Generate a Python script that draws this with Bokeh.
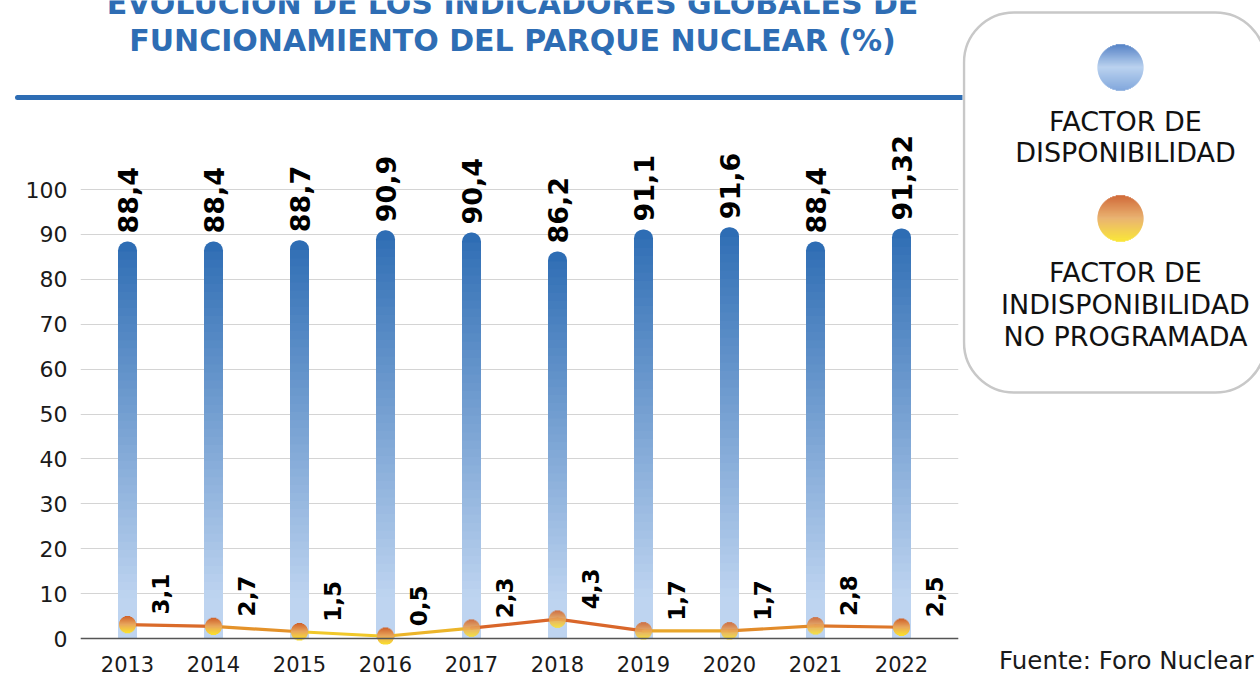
import math
from bokeh.plotting import figure
from bokeh.models import Range1d, FixedTicker, Span, Div
from bokeh.layouts import row, column
from bokeh.embed import file_html
from bokeh.resources import INLINE
from bokeh.core.properties import value

# ---------------- data ----------------
years = [2013, 2014, 2015, 2016, 2017, 2018, 2019, 2020, 2021, 2022]
disponibilidad = [88.4, 88.4, 88.7, 90.9, 90.4, 86.2, 91.1, 91.6, 88.4, 91.32]
indisponibilidad = [3.1, 2.7, 1.5, 0.5, 2.3, 4.3, 1.7, 1.7, 2.8, 2.5]
y_ticks = [0, 10, 20, 30, 40, 50, 60, 70, 80, 90, 100]
title_lines = ["EVOLUCIÓN DE LOS INDICADORES GLOBALES DE",
               "FUNCIONAMIENTO DEL PARQUE NUCLEAR (%)"]
legend_disp = ["FACTOR DE", "DISPONIBILIDAD"]
legend_indisp = ["FACTOR DE", "INDISPONIBILIDAD", "NO PROGRAMADA"]
source_text = "Fuente: Foro Nuclear"

FONT = value("DejaVu Sans")
BLUE = "#2E6DB4"


def fmt(v):
    return f"{v:g}".replace(".", ",")


def mix(c1, c2, t):
    t = max(0.0, min(1.0, t))
    a = [int(c1[i:i + 2], 16) for i in (1, 3, 5)]
    b = [int(c2[i:i + 2], 16) for i in (1, 3, 5)]
    return "#%02x%02x%02x" % tuple(round(a[i] + (b[i] - a[i]) * t) for i in range(3))


def mix3(c_top, c_mid, c_bot, t):
    if t < 0.5:
        return mix(c_top, c_mid, t / 0.5)
    return mix(c_mid, c_bot, (t - 0.5) / 0.5)


# ---------------- layout geometry (page pixels) ----------------
LEFT_W = 962
TITLE_H = 88
RULE_H = 12
MAIN_H = 578
SIDE_W = 298
TOTAL_H = TITLE_H + RULE_H + MAIN_H
B_LEFT, B_RIGHT, B_TOP, B_BOTTOM = 80, 4, 0, 34

# ---------------- main chart ----------------
FRAME_H = MAIN_H - B_TOP - B_BOTTOM
PXU = 4.49            # pixels per percentage point
ZERO_FROM_TOP = 538   # pixel distance from frame top to the 0 line
PXX = 86.0            # pixels per year
y_end = ZERO_FROM_TOP / PXU
y_start = -(FRAME_H - ZERO_FROM_TOP) / PXU
x_start = years[0] - 47 / PXX
x_end = years[-1] + 57 / PXX

p = figure(width=LEFT_W, height=MAIN_H,
           x_range=Range1d(x_start, x_end), y_range=Range1d(y_start, y_end),
           output_backend="svg", toolbar_location=None,
           min_border_left=B_LEFT, min_border_right=B_RIGHT,
           min_border_top=B_TOP, min_border_bottom=B_BOTTOM)
p.outline_line_color = None
p.background_fill_color = "white"
p.border_fill_color = "white"
p.xgrid.grid_line_color = None
p.ygrid.grid_line_color = "#D4D4D4"
p.ygrid.grid_line_width = 1
p.yaxis.ticker = FixedTicker(ticks=y_ticks)
p.xaxis.ticker = FixedTicker(ticks=years)
for ax in p.axis:
    ax.axis_line_color = None
    ax.major_tick_line_color = None
    ax.minor_tick_line_color = None
    ax.major_label_text_font = "DejaVu Sans"
    ax.major_label_text_color = "#1a1a1a"
p.yaxis.major_label_text_font_size = "22px"
p.yaxis.major_label_standoff = 7
p.xaxis.major_label_text_font_size = "21px"
p.xaxis.major_label_standoff = 5

# gradient bars built from slices of each value
BAR_W = 19 / PXX
BAR_TOP, BAR_BOTTOM = "#2E6DB4", "#BED4F0"
cap_bottoms = [v - 4.6 for v in disponibilidad]
p.vbar(x=years, top=disponibilidad, bottom=cap_bottoms, width=BAR_W,
       fill_color=BAR_TOP, line_color=None, border_radius=9)
N = 48
sx, sb, st, sc = [], [], [], []
for yr, v in zip(years, disponibilidad):
    body = v - 2.2
    h = body / N
    for k in range(N):
        b = k * h
        sx.append(yr)
        sb.append(b)
        st.append(min(b + h * 1.5, body))
        sc.append(mix(BAR_BOTTOM, BAR_TOP, ((k + 0.5) * h / v - 0.1) / 0.9))
p.vbar(x=sx, bottom=sb, top=st, width=BAR_W, fill_color=sc, line_color=None)

# line of the unplanned unavailability factor
LINE_HI, LINE_LO = "#D9662A", "#F6DC2A"
seg_cols = [mix(LINE_LO, LINE_HI, ((a + b) / 2 - 0.6) / 2.4)
            for a, b in zip(indisponibilidad[:-1], indisponibilidad[1:])]
p.segment(x0=years[:-1], y0=indisponibilidad[:-1], x1=years[1:], y1=indisponibilidad[1:],
          line_color=seg_cols, line_width=3.2, line_cap="round")

# gradient markers built from horizontal slices
R = 8.5
S = 17
mx, my, mw, mc = [], [], [], []
for yr, u in zip(years, indisponibilidad):
    for k in range(S):
        dy = -R + (k + 0.5) * (2 * R / S)
        chord = 2 * math.sqrt(max(R * R - dy * dy, 0.0))
        mx.append(yr)
        my.append(u - dy / PXU)
        mw.append(chord)
        mc.append(mix3("#CF602A", "#E8A65C", "#FBE22C", (k + 0.5) / S))
p.rect(x=mx, y=my, width=mw, height=1.35, width_units="screen", height_units="screen",
       fill_color=mc, line_color=None)

p.add_layout(Span(location=0, dimension="width", line_color="#555555", line_width=1.5))

# value labels
p.text(x=years, y=disponibilidad, text=[fmt(v) for v in disponibilidad],
       angle=math.pi / 2, text_align="left", text_baseline="middle", y_offset=-8,
       text_font=FONT, text_font_style="bold", text_font_size="27px", text_color="black")
p.text(x=years, y=indisponibilidad, text=[fmt(v) for v in indisponibilidad],
       angle=math.pi / 2, text_align="left", text_baseline="middle", x_offset=33, y_offset=-10,
       text_font=FONT, text_font_style="bold", text_font_size="23px", text_color="black")

# ---------------- title strip (same frame edges as the chart) ----------------
t = figure(width=LEFT_W, height=TITLE_H,
           x_range=Range1d(B_LEFT, LEFT_W - B_RIGHT), y_range=Range1d(0, TITLE_H),
           x_axis_type=None, y_axis_type=None, output_backend="svg",
           toolbar_location=None, min_border_left=B_LEFT, min_border_right=B_RIGHT,
           min_border_top=0, min_border_bottom=0)
t.outline_line_color = None
t.text(x=[512, 512], y=[TITLE_H - 3, TITLE_H - 40], text=title_lines, text_align="center",
       text_baseline="middle", text_font=FONT, text_font_style="bold",
       text_font_size="30px", text_color=BLUE)

rule = Div(text='<div style="margin:3px 0 0 15px;width:960px;height:5px;'
                'background:#2E6DB4;border-radius:3px;"></div>',
           width=LEFT_W, height=RULE_H, margin=(0, 0, 0, 0))

# ---------------- legend side ----------------
X0 = LEFT_W
s = figure(width=SIDE_W, height=TOTAL_H, x_range=Range1d(X0, X0 + SIDE_W),
           y_range=Range1d(0, TOTAL_H), x_axis_type=None, y_axis_type=None,
           output_backend="svg", toolbar_location=None, min_border=0)
s.outline_line_color = None
s.quad(left=[X0 + 1.5], right=[1265], top=[TOTAL_H - 12], bottom=[TOTAL_H - 392],
       fill_color="white", line_color="#C8C8C8", line_width=2.5, border_radius=50)


def grad_circle(fig, cx, cy, r, c_top, c_mid, c_bot):
    n = int(2 * r)
    xs, ys, ws, cs = [], [], [], []
    for k in range(n):
        dy = -r + (k + 0.5) * (2 * r / n)
        xs.append(cx)
        ys.append(cy - dy)
        ws.append(2 * math.sqrt(max(r * r - dy * dy, 0.0)))
        cs.append(mix3(c_top, c_mid, c_bot, (k + 0.5) / n))
    fig.rect(x=xs, y=ys, width=ws, height=1.4, fill_color=cs, line_color=None)


grad_circle(s, 1120, TOTAL_H - 67, 23, "#4A7AC2", "#B6CFEE", "#7AA2DA")
grad_circle(s, 1120, TOTAL_H - 218, 23, "#CD5F2B", "#E8AE68", "#FAE52C")
s.text(x=[1125] * 2, y=[TOTAL_H - 121, TOTAL_H - 152], text=legend_disp, text_align="center",
       text_baseline="middle", text_font=FONT, text_font_size="27px", text_color="#111111")
s.text(x=[1125] * 3, y=[TOTAL_H - 272, TOTAL_H - 304, TOTAL_H - 336], text=legend_indisp,
       text_align="center", text_baseline="middle", text_font=FONT,
       text_font_size="27px", text_color="#111111")
s.text(x=[1253], y=[TOTAL_H - 660], text=[source_text], text_align="right",
       text_baseline="middle", text_font=FONT, text_font_size="24.5px", text_color="#1a1a1a")

layout = row(column(t, rule, p, spacing=0), s, spacing=0)
open("out.html", "w").write(file_html(layout, INLINE))
